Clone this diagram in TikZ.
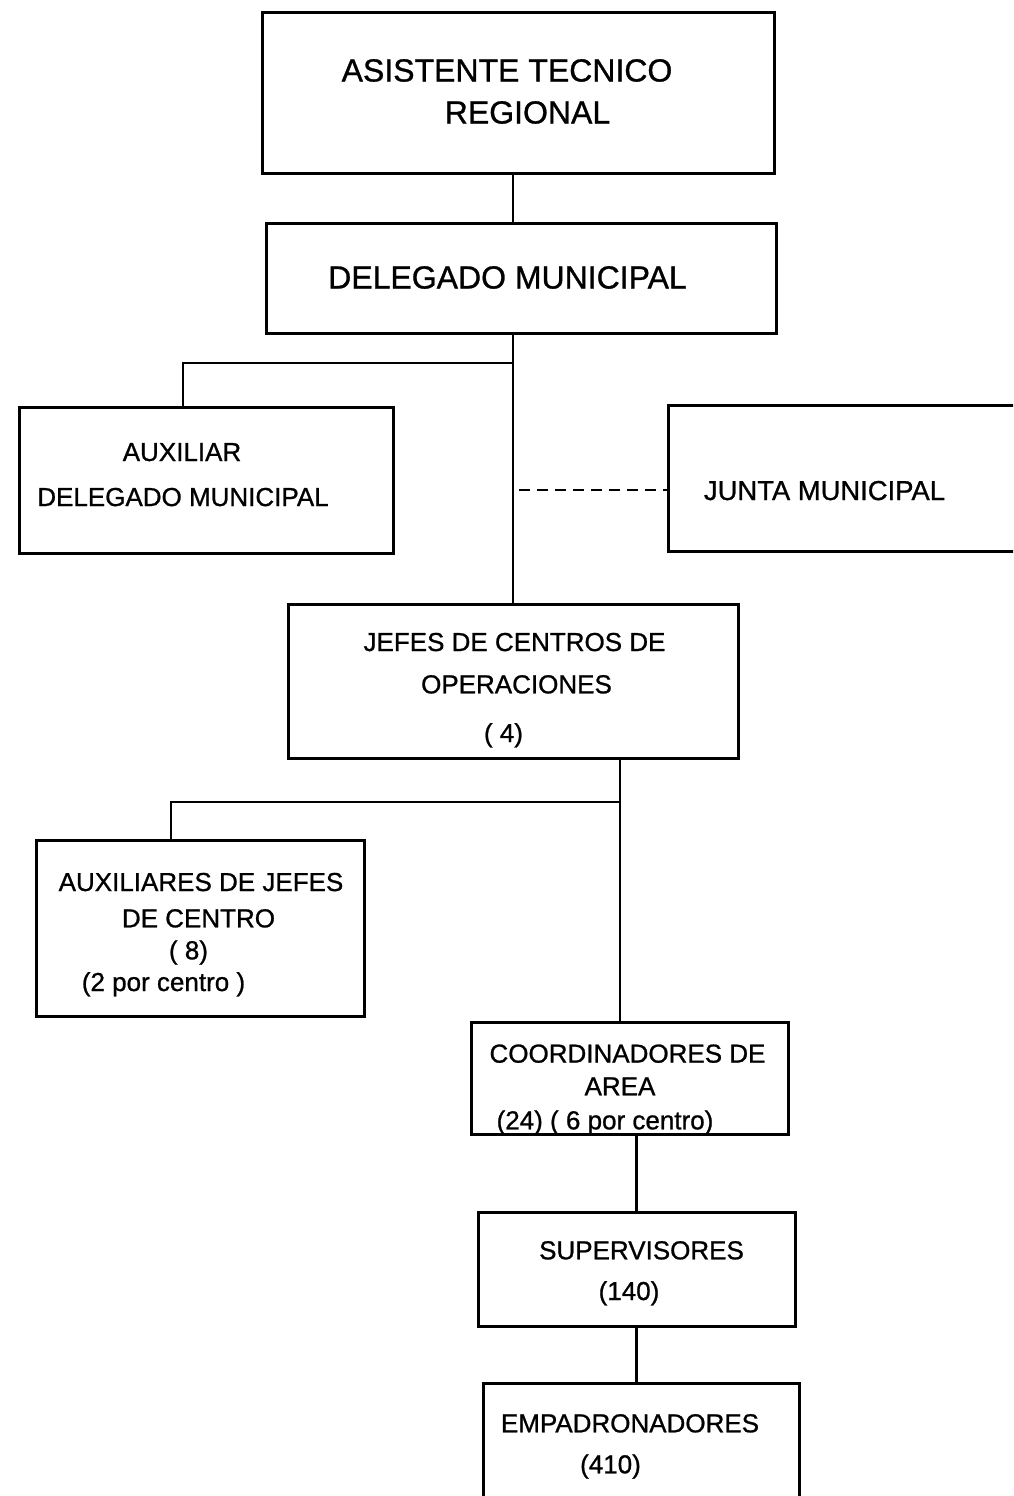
\documentclass[tikz,border=0pt]{standalone}
\usepackage{fontspec}
\setmainfont{Liberation Sans}[FakeBold=0.9]
\begin{document}
\begin{tikzpicture}[x=1pt,y=-1pt]
\tikzset{
  box/.style={draw=black, line width=3pt, rectangle, inner sep=0pt},
  link/.style={draw=black, line width=2.6pt},
  big/.style={inner sep=0pt, anchor=base, font=\fontsize{32}{36}\selectfont},
  lbl/.style={inner sep=0pt, anchor=base, font=\fontsize{26}{30}\selectfont},
}
\useasboundingbox (0,0) rectangle (1013,1496);
\clip (0,0) rectangle (1013,1496);
\fill[white] (0,0) rectangle (1013,1496);

% boxes
\node[box, minimum width=512pt, minimum height=160pt] (atr) at (518,93) {};
\node[box, minimum width=510pt, minimum height=110pt] (dm) at (521,278) {};
\node[box, minimum width=374pt, minimum height=146pt] (aux) at (206,480) {};
\node[box, minimum width=370pt, minimum height=146pt] (junta) at (853,478) {};
\node[box, minimum width=450pt, minimum height=154pt] (jefes) at (513,681) {};
\node[box, minimum width=328pt, minimum height=176pt] (auxj) at (200,928) {};
\node[box, minimum width=317pt, minimum height=112pt] (coord) at (629.5,1078) {};
\node[box, minimum width=317pt, minimum height=114pt] (sup) at (636.5,1269) {};
\node[box, minimum width=316pt, minimum height=140pt] (emp) at (641,1453) {};

% texts
\node[big] (t1) at (507,81.5) {ASISTENTE TECNICO};
\node[big] (t2) at (527.5,123.5) {REGIONAL};
\node[big] (t3) at (507.5,288.5) {DELEGADO MUNICIPAL};
\node[lbl] (t4) at (182,461) {AUXILIAR};
\node[lbl] (t5) at (183,506) {DELEGADO MUNICIPAL};
\node[lbl, font=\fontsize{27.4}{30}\selectfont] (t6) at (824.5,500) {JUNTA MUNICIPAL};
\node[lbl] (t7) at (514.5,651) {JEFES DE CENTROS DE};
\node[lbl] (t8) at (516.5,693.3) {OPERACIONES};
\node[lbl] (t9) at (503.5,742) {( 4)};
\node[lbl] (t10) at (201,891) {AUXILIARES DE JEFES};
\node[lbl] (t11) at (198.5,927.3) {DE CENTRO};
\node[lbl] (t12) at (188.5,959.3) {( 8)};
\node[lbl] (t13) at (163.5,991) {(2 por centro )};
\node[lbl] (t14) at (627.5,1062.6) {COORDINADORES DE};
\node[lbl] (t15) at (620,1095.3) {AREA};
\node[lbl] (t16) at (605,1129.3) {(24) ( 6 por centro)};
\node[lbl] (t17) at (641.5,1259.3) {SUPERVISORES};
\node[lbl] (t18) at (629,1300) {(140)};
\node[lbl] (t19) at (630,1432.3) {EMPADRONADORES};
\node[lbl] (t20) at (610.5,1473.3) {(410)};

% connectors
\coordinate (b1) at (513,363);
\coordinate (a1) at (183,363);
\coordinate (d1) at (519,490);
\coordinate (b2) at (620,802);
\coordinate (a2) at (171,802);

\draw[link] (atr.south -| b1) -- (dm.north -| b1);
\draw[link] (dm.south -| b1) -- (jefes.north -| b1);
\draw[link] (b1) -- (a1) -- (aux.north -| a1);
\draw[link, dash pattern=on 11pt off 7pt] (d1) -- (junta.west |- d1);
\draw[link] (jefes.south -| b2) -- (coord.north -| b2);
\draw[link] (b2) -- (a2) -- (auxj.north -| a2);
\draw[link] (coord.south -| sup.north) -- (sup.north);
\draw[link] (sup.south) -- (emp.north -| sup.south);
\end{tikzpicture}
\end{document}
